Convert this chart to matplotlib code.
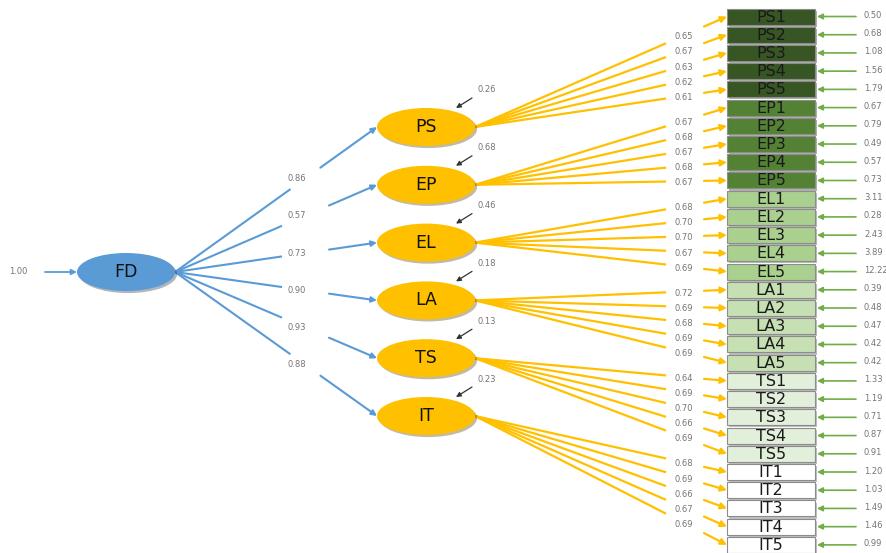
import matplotlib
matplotlib.use("Agg")
import matplotlib.pyplot as plt
from matplotlib.patches import Ellipse, Rectangle
import matplotlib.patheffects as pe

# ── Data ───────────────────────────────────────────────────────────────────
factors = ["PS", "EP", "EL", "LA", "TS", "IT"]
paths = [0.86, 0.57, 0.73, 0.90, 0.93, 0.88]
r2 = [0.26, 0.68, 0.46, 0.18, 0.13, 0.23]
fd_var = 1.00

loadings = [
    0.65, 0.67, 0.63, 0.62, 0.61,
    0.67, 0.68, 0.67, 0.68, 0.67,
    0.68, 0.70, 0.70, 0.67, 0.69,
    0.72, 0.69, 0.68, 0.69, 0.69,
    0.64, 0.69, 0.70, 0.66, 0.69,
    0.68, 0.69, 0.66, 0.67, 0.69,
]
errors = [
    0.50, 0.68, 1.08, 1.56, 1.79,
    0.67, 0.79, 0.49, 0.57, 0.73,
    3.11, 0.28, 2.43, 3.89, 12.22,
    0.39, 0.48, 0.47, 0.42, 0.42,
    1.33, 1.19, 0.71, 0.87, 0.91,
    1.20, 1.03, 1.49, 1.46, 0.99,
]
items = [f"{f}{i}" for f in factors for i in range(1, 6)]

# ── Style ──────────────────────────────────────────────────────────────────
BLUE = "#5B9BD5"
YELLOW = "#FFC000"
GREEN = "#70AD47"
LBL = "#7a7373"
box_fill = {"PS": "#375623", "EP": "#548235", "EL": "#A9D08E",
            "LA": "#C6E0B4", "TS": "#E2EFDA", "IT": "#FFFFFF"}
shadow = [pe.SimplePatchShadow(offset=(1.5, -1.5), alpha=0.35), pe.Normal()]
plt.rcParams["font.family"] = ["DejaVu Sans"]

fig = plt.figure(figsize=(8.87, 5.53), dpi=100)
ax = fig.add_axes([0, 0, 1, 1])
ax.set_xlim(0, 887)
ax.set_ylim(553, 0)
ax.axis("off")


def arrow(p0, p1, color, lw=1.3, ms=8):
    ax.annotate("", xy=p1, xytext=p0,
                arrowprops=dict(arrowstyle="-|>", color=color, lw=lw,
                                mutation_scale=ms, shrinkA=0, shrinkB=0))


def on_line(p0, p1, x):
    t = (x - p0[0]) / (p1[0] - p0[0])
    return p0[1] + t * (p1[1] - p0[1])


# ── FD ─────────────────────────────────────────────────────────────────────
fd = (126, 272)
ell_w, ell_h = 98, 38
ax.add_patch(Ellipse(fd, ell_w, ell_h, facecolor=BLUE, edgecolor="none",
                     path_effects=shadow, zorder=3))
ax.text(fd[0], fd[1], "FD", ha="center", va="center", fontsize=12.5,
        color="#111111", zorder=4)
arrow((45, fd[1]), (fd[0] - ell_w / 2, fd[1]), BLUE)
ax.text(18, fd[1] - 1, f"{fd_var:.2f}", ha="center", va="center",
        fontsize=6, color=LBL)

# ── Latent factors ─────────────────────────────────────────────────────────
fac_x = 426
fac_y0, fac_dy = 127, 57.8
box_x, box_w, box_h = 727, 88, 16
box_y0, box_dy = 16.5, 18.22

for k, f in enumerate(factors):
    cy = fac_y0 + k * fac_dy
    ax.add_patch(Ellipse((fac_x, cy), ell_w, ell_h, facecolor=YELLOW,
                         edgecolor="none", path_effects=shadow, zorder=3))
    ax.text(fac_x, cy, f, ha="center", va="center", fontsize=12.5,
            color="#111111", zorder=4)

    # structural path FD -> factor, broken around its label
    p0 = (fd[0] + ell_w / 2, fd[1])
    p1 = (fac_x - ell_w / 2, cy)
    slope = (p1[1] - p0[1]) / (p1[0] - p0[0])
    lx = 305
    ly = on_line(p0, p1, lx)
    half = min(24, 11 / max(abs(slope), 1e-6))
    ax.plot([p0[0], lx - half], [p0[1], on_line(p0, p1, lx - half)],
            color=BLUE, lw=1.5, zorder=2)
    arrow((lx + half, on_line(p0, p1, lx + half)), p1, BLUE, lw=1.5)
    ax.text(lx - 8, ly, f"{paths[k]:.2f}", ha="center", va="center",
            fontsize=6, color=LBL)

    # disturbance
    arrow((fac_x + 46, cy - 29), (fac_x + 30, cy - 19), "#333333", lw=0.9, ms=7)
    ax.text(fac_x + 52, cy - 37, f"{r2[k]:.2f}", ha="left", va="center",
            fontsize=6, color=LBL)

    # indicators
    for j in range(5):
        i = k * 5 + j
        by = box_y0 + i * box_dy
        q0 = (fac_x + ell_w / 2, cy)
        q1 = (box_x, by)
        ax.plot([q0[0], 665], [q0[1], on_line(q0, q1, 665)],
                color=YELLOW, lw=1.6, zorder=2)
        arrow((704, on_line(q0, q1, 704)), q1, YELLOW, lw=1.6, ms=9)
        ax.text(684, on_line(q0, q1, 684) + 1.5, f"{loadings[i]:.2f}",
                ha="center", va="center", fontsize=6, color=LBL)

        ax.add_patch(Rectangle((box_x, by - box_h / 2), box_w, box_h,
                               facecolor=box_fill[f], edgecolor="#8c8c8c",
                               lw=0.8, path_effects=shadow, zorder=3))
        ax.text(box_x + box_w / 2, by + 0.5, items[i], ha="center",
                va="center", fontsize=11.5, color="#1a1a1a", zorder=4)

        arrow((856, by), (box_x + box_w + 2, by), GREEN, lw=1.2)
        ax.text(864, by - 1, f"{errors[i]:.2f}", ha="left", va="center",
                fontsize=6, color=LBL)

fig.savefig("out.png", dpi=100)
